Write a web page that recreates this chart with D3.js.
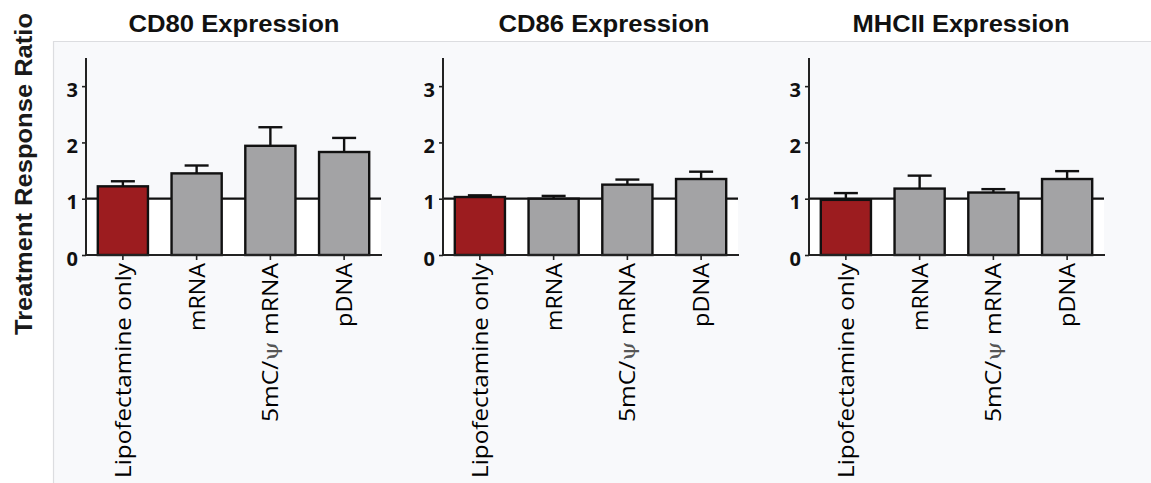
<!DOCTYPE html>
<html>
<head>
<meta charset="utf-8">
<script src="https://cdn.jsdelivr.net/npm/d3@7"></script>
<style>
  html, body { margin: 0; padding: 0; background: #ffffff; }
  svg { display: block; }
</style>
</head>
<body>
<svg id="chart" width="1151" height="483"></svg>
<script>
// ---------------- data ----------------
const categories = ["Lipofectamine only", "mRNA", "5mC/ψ mRNA", "pDNA"];
const panelTitles = ["CD80 Expression", "CD86 Expression", "MHCII Expression"];
const cd80Means = [1.22, 1.45, 1.94, 1.83];
const cd80Errors = [0.09, 0.14, 0.33, 0.25];
const cd86Means = [1.03, 1.00, 1.25, 1.35];
const cd86Errors = [0.03, 0.05, 0.09, 0.13];
const mhciiMeans = [0.98, 1.18, 1.11, 1.35];
const mhciiErrors = [0.12, 0.23, 0.06, 0.14];
const yTicks = [0, 1, 2, 3];
const referenceValue = 1;
const yAxisTitle = "Treatment Response Ratio";

const panels = [
  { title: panelTitles[0], means: cd80Means, errors: cd80Errors },
  { title: panelTitles[1], means: cd86Means, errors: cd86Errors },
  { title: panelTitles[2], means: mhciiMeans, errors: mhciiErrors }
];

// ---------------- layout ----------------
const W = 1151, H = 483;
const axisLeft = [86, 443, 809];
const titleCenter = [234, 604, 961];
const plotW = 295;
const yTop = 58, yBottom = 255;
const colors = { control: "#9c1c1f", other: "#a3a3a5" };

const svg = d3.select("#chart");

// background panel
svg.append("rect").attr("x", 53).attr("y", 41).attr("width", W - 53).attr("height", H - 41)
  .attr("fill", "#f8f9fb");
svg.append("line").attr("x1", 53).attr("x2", W).attr("y1", 41.5).attr("y2", 41.5)
  .attr("stroke", "#dcdde0").attr("stroke-width", 1.2);
svg.append("line").attr("x1", 53.5).attr("x2", 53.5).attr("y1", 41).attr("y2", H)
  .attr("stroke", "#dcdde0").attr("stroke-width", 1.2);

const y = d3.scaleLinear().domain([0, 3.5]).range([yBottom, yTop]);

// y-axis title
svg.append("text")
  .attr("transform", `translate(32,${174}) rotate(-90)`)
  .attr("text-anchor", "middle")
  .attr("font-family", "Liberation Sans, Arial, sans-serif")
  .attr("font-weight", "bold")
  .attr("font-size", 23)
  .attr("fill", "#1a1a1a")
  .attr("textLength", 322)
  .attr("lengthAdjust", "spacingAndGlyphs")
  .text(yAxisTitle);

panels.forEach((p, i) => {
  const x0 = axisLeft[i];
  const x = d3.scaleBand().domain(categories).range([x0, x0 + plotW]).paddingInner(0.32).paddingOuter(0.16);
  const g = svg.append("g");

  // title
  g.append("text")
    .attr("x", titleCenter[i]).attr("y", 32)
    .attr("text-anchor", "middle")
    .attr("font-family", "Liberation Sans, Arial, sans-serif")
    .attr("font-weight", "bold")
    .attr("font-size", 23)
    .attr("fill", "#111")
    .attr("textLength", i === 2 ? 217 : 211)
    .attr("lengthAdjust", "spacingAndGlyphs")
    .text(p.title);

  // white region below reference line
  g.append("rect")
    .attr("x", x0).attr("width", plotW)
    .attr("y", y(referenceValue)).attr("height", y(0) - y(referenceValue))
    .attr("fill", "#ffffff");

  // reference line
  g.append("line")
    .attr("x1", x0).attr("x2", x0 + plotW)
    .attr("y1", y(referenceValue)).attr("y2", y(referenceValue))
    .attr("stroke", "#111").attr("stroke-width", 2.2);

  // bars
  g.selectAll("rect.bar").data(categories).join("rect")
    .attr("class", "bar")
    .attr("x", d => x(d)).attr("width", x.bandwidth())
    .attr("y", (d, j) => y(p.means[j]))
    .attr("height", (d, j) => y(0) - y(p.means[j]))
    .attr("fill", (d, j) => j === 0 ? colors.control : colors.other)
    .attr("stroke", "#111").attr("stroke-width", 2.4);

  // error bars (upper)
  const capW = 24;
  const eb = g.selectAll("g.err").data(categories).join("g").attr("class", "err");
  eb.append("line")
    .attr("x1", d => x(d) + x.bandwidth() / 2).attr("x2", d => x(d) + x.bandwidth() / 2)
    .attr("y1", (d, j) => y(p.means[j])).attr("y2", (d, j) => y(p.means[j] + p.errors[j]))
    .attr("stroke", "#111").attr("stroke-width", 2.4);
  eb.append("line")
    .attr("x1", d => x(d) + x.bandwidth() / 2 - capW / 2).attr("x2", d => x(d) + x.bandwidth() / 2 + capW / 2)
    .attr("y1", (d, j) => y(p.means[j] + p.errors[j])).attr("y2", (d, j) => y(p.means[j] + p.errors[j]))
    .attr("stroke", "#111").attr("stroke-width", 2.4);

  // y axis
  const ya = g.append("g").attr("transform", `translate(${x0},0)`)
    .call(d3.axisLeft(y).tickValues(yTicks).tickSize(4).tickPadding(4).tickFormat(d3.format("d")));
  ya.select(".domain").attr("stroke", "#222").attr("stroke-width", 2).attr("d", `M0,${yTop}V${yBottom}`);
  ya.selectAll(".tick line").attr("stroke", "#222").attr("stroke-width", 1.6);
  ya.selectAll(".tick text")
    .attr("font-family", "Open Sans, sans-serif").attr("font-weight", "bold")
    .attr("font-size", 20).attr("fill", "#111").attr("dy", "0.5em");

  // x axis
  const xa = g.append("g").attr("transform", `translate(0,${yBottom})`)
    .call(d3.axisBottom(x).tickSize(5).tickFormat(""));
  xa.select(".domain").attr("stroke", "#222").attr("stroke-width", 2).attr("d", `M${x0},0H${x0 + plotW + 1}`);
  xa.selectAll(".tick line").attr("stroke", "#222").attr("stroke-width", 1.6);

  // category labels
  const labelLens = [215, 68, 159, 64];
  categories.forEach((c, j) => {
    const cx = x(c) + x.bandwidth() / 2;
    const t = g.append("text")
      .attr("transform", `translate(${cx + 8},263) rotate(-90)`)
      .attr("text-anchor", "end")
      .attr("font-family", "Open Sans, sans-serif")
      .attr("font-size", 21)
      .attr("font-weight", 500)
      .attr("fill", "#000");
    if (c.includes("ψ")) {
      const parts = c.split("ψ");
      t.append("tspan").text(parts[0]);
      t.append("tspan").attr("font-family", "DejaVu Serif, serif").attr("font-weight", 300)
        .attr("fill", "#555").text("ψ");
      t.append("tspan").text(parts[1]);
    } else {
      t.text(c);
    }
    t.attr("textLength", labelLens[j]).attr("lengthAdjust", "spacingAndGlyphs");
  });
});
</script>
</body>
</html>
